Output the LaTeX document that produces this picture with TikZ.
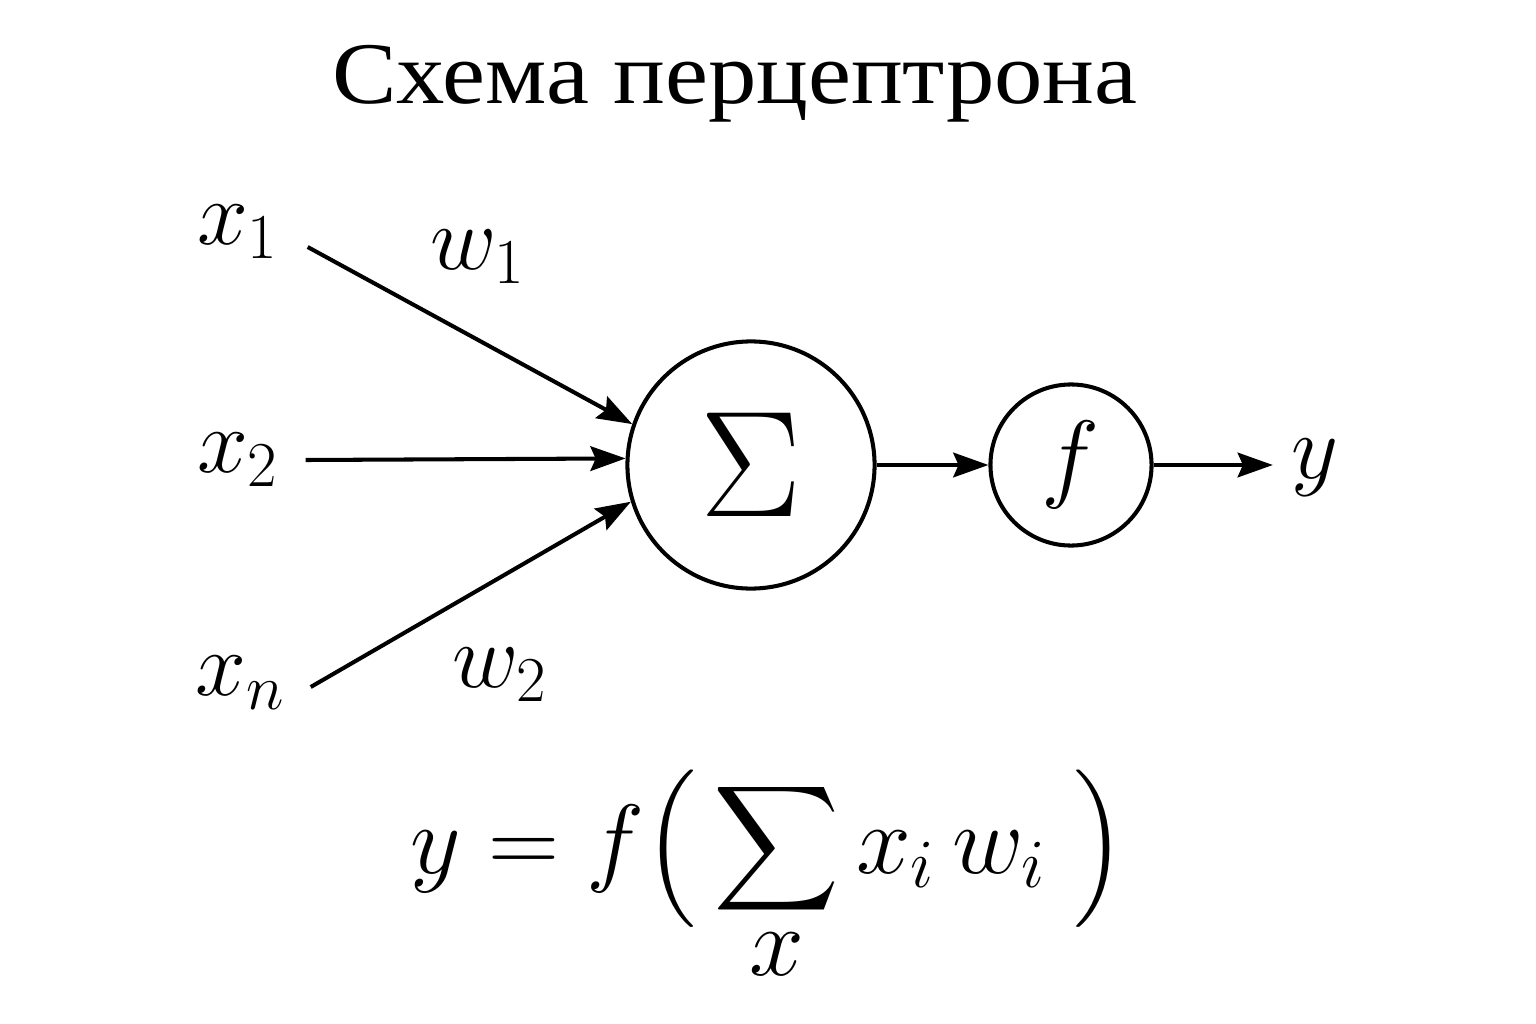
\documentclass[tikz,border=0pt]{standalone}
\usepackage{fix-cm}
\usepackage{amsmath}
\usepackage{fontspec}
\newfontfamily\titlefont[FakeStretch=1.1]{Liberation Serif}
\usetikzlibrary{arrows.meta}

\begin{document}
\begin{tikzpicture}[x=0.01cm,y=-0.01cm]
    \tikzset{neuron/.style={draw,circle,line width=1.15pt,inner sep=0pt,minimum size=#1}}
    \tikzset{conn/.style={line width=1.15pt,-{Stealth[length=10pt,width=7pt,inset=1.5pt]}}}
    \tikzset{lbl/.style={inner sep=0pt,font=\fontsize{26}{30}\selectfont}}
    \useasboundingbox (0,0) rectangle (1536,1024);

    \node[anchor=base,font=\titlefont\fontsize{25}{30}\selectfont] (title) at (735,103) {Схема перцептрона};

    \node[neuron=2.47cm,font=\fontsize{43}{48}\selectfont] (sum) at (751,465) {$\Sigma$};
    \node[neuron=1.61cm,font=\fontsize{28}{32}\selectfont] (f) at (1071,465) {$f$};
    \node[lbl] (y) at (1315,468) {$y$};

    \node[lbl] (x1) at (238,232) {$x_1$};
    \node[lbl] (x2) at (238,460) {$x_2$};
    \node[lbl] (xn) at (241,683) {$x_n$};
    \node[lbl] (w1) at (478,257) {$w_1$};
    \node[lbl] (w2) at (500,675) {$w_2$};

    \draw[conn] ([shift={(28,15)}]x1.east) -- (sum.161);
    \draw[conn] ([shift={(26,0)}]x2.east) -- (sum.177);
    \draw[conn] ([shift={(24,4)}]xn.east) -- (sum.197);
    \draw[conn] (sum.east) -- (f.west);
    \draw[conn,shorten >=0.18cm] (f.east) -- (f.east -| y.west);

    \node[anchor=base,font=\fontsize{28}{28}\selectfont] (eq) at (768,873)
        {$y = f\bigl(\,\displaystyle\sum\limits_{\textstyle x} x_i\, w_i\;\bigr)$};
\end{tikzpicture}
\end{document}
